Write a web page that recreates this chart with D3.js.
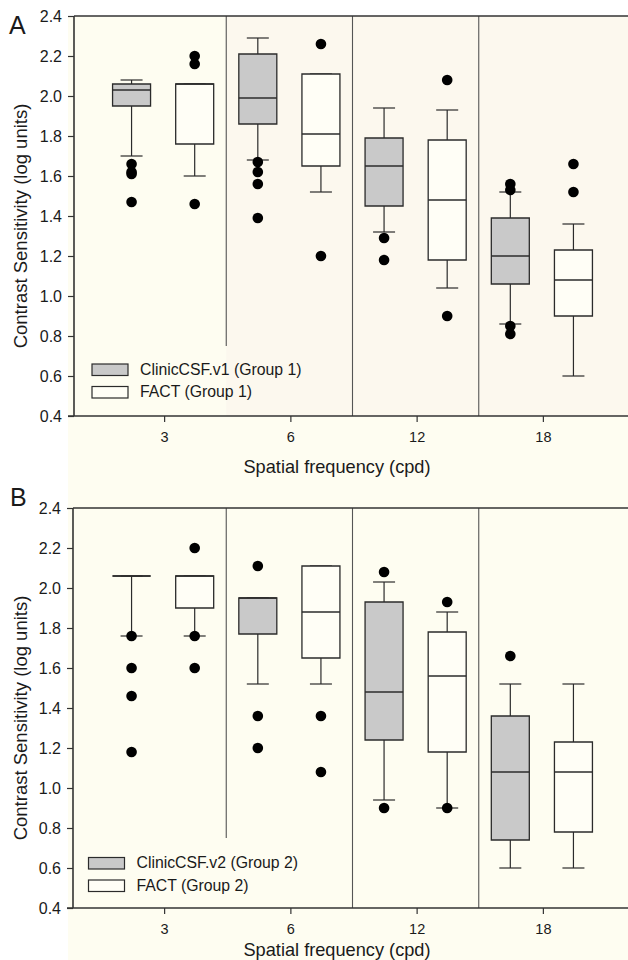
<!DOCTYPE html>
<html><head><meta charset="utf-8">
<script src="https://cdn.jsdelivr.net/npm/d3@7"></script>
<style>
body{margin:0;background:#fff}
svg{display:block}
text{font-family:"Liberation Sans",Arial,Helvetica,sans-serif;fill:#1a1a1a}
</style>
</head><body>
<svg id="c" width="628" height="960"></svg>
<script>
// ---------- DATA ----------
const categories = ["3", "6", "12", "18"];
const yTickValues = [0.4, 0.6, 0.8, 1.0, 1.2, 1.4, 1.6, 1.8, 2.0, 2.2, 2.4];

// Panel A – ClinicCSF.v1 (Group 1)
const aClinicLow     = [1.70, 1.68, 1.32, 0.86];
const aClinicQ1      = [1.95, 1.86, 1.45, 1.06];
const aClinicMedian  = [2.03, 1.99, 1.65, 1.20];
const aClinicQ3      = [2.06, 2.21, 1.79, 1.39];
const aClinicHigh    = [2.08, 2.29, 1.94, 1.52];
const aClinicOut     = [[1.66, 1.62, 1.61, 1.47], [1.67, 1.62, 1.56, 1.39], [1.29, 1.18], [1.56, 1.53, 0.85, 0.81]];
// Panel A – FACT (Group 1)
const aFactLow       = [1.60, 1.52, 1.04, 0.60];
const aFactQ1        = [1.76, 1.65, 1.18, 0.90];
const aFactMedian    = [2.06, 1.81, 1.48, 1.08];
const aFactQ3        = [2.06, 2.11, 1.78, 1.23];
const aFactHigh      = [2.06, 2.11, 1.93, 1.36];
const aFactOut       = [[2.20, 2.16, 1.46], [2.26, 1.20], [2.08, 0.90], [1.66, 1.52]];

// Panel B – ClinicCSF.v2 (Group 2)
const bClinicLow     = [1.76, 1.52, 0.94, 0.60];
const bClinicQ1      = [2.06, 1.77, 1.24, 0.74];
const bClinicMedian  = [2.06, 1.95, 1.48, 1.08];
const bClinicQ3      = [2.06, 1.95, 1.93, 1.36];
const bClinicHigh    = [2.06, 1.95, 2.03, 1.52];
const bClinicOut     = [[1.76, 1.60, 1.46, 1.18], [2.11, 1.36, 1.20], [2.08, 0.90], [1.66]];
// Panel B – FACT (Group 2)
const bFactLow       = [1.76, 1.52, 0.90, 0.60];
const bFactQ1        = [1.90, 1.65, 1.18, 0.78];
const bFactMedian    = [2.06, 1.88, 1.56, 1.08];
const bFactQ3        = [2.06, 2.11, 1.78, 1.23];
const bFactHigh      = [2.06, 2.11, 1.88, 1.52];
const bFactOut       = [[2.20, 1.76, 1.60], [1.36, 1.08], [1.93, 0.90], []];

const legendA = ["ClinicCSF.v1 (Group 1)", "FACT (Group 1)"];
const legendB = ["ClinicCSF.v2 (Group 2)", "FACT (Group 2)"];

// ---------- LAYOUT ----------
const W = 628, H = 960;
const svg = d3.select("#c");
const GREY = "#c9c9c9", WHITE = "#fffef6", INK = "#2b2b2b";

svg.append("rect").attr("x", 68).attr("y", 16).attr("width", W - 68).attr("height", H - 16).attr("fill", "#fefdf1");

const x = d3.scaleBand().domain(categories).range([100, 605]);
const xs = d3.scaleBand().domain([0, 1]).range([0, x.bandwidth()]);
const boxW = 38, capW = 22;

function series(name, fill, lo, q1, med, q3, hi, out) {
  return { name, fill, lo, q1, med, q3, hi, out };
}

const panels = [
  { letter: "A", letterX: 9, letterY: 34, top: 16, bottom: 416, left: 74, tint: true, xTitleY: 473,
    legend: legendA, legendX: 92, legendY: 364,
    series: [series(legendA[0], GREY, aClinicLow, aClinicQ1, aClinicMedian, aClinicQ3, aClinicHigh, aClinicOut),
             series(legendA[1], WHITE, aFactLow, aFactQ1, aFactMedian, aFactQ3, aFactHigh, aFactOut)] },
  { letter: "B", letterX: 10, letterY: 506, top: 508, bottom: 908, left: 73, tint: false, xTitleY: 956,
    legend: legendB, legendX: 88.5, legendY: 857.5,
    series: [series(legendB[0], GREY, bClinicLow, bClinicQ1, bClinicMedian, bClinicQ3, bClinicHigh, bClinicOut),
             series(legendB[1], WHITE, bFactLow, bFactQ1, bFactMedian, bFactQ3, bFactHigh, bFactOut)] }
];

function hline(g, x1, x2, yv, w) {
  g.append("line").attr("x1", x1).attr("x2", x2).attr("y1", yv).attr("y2", yv).attr("stroke", INK).attr("stroke-width", w);
}
function vline(g, xv, y1, y2, w) {
  g.append("line").attr("x1", xv).attr("x2", xv).attr("y1", y1).attr("y2", y2).attr("stroke", INK).attr("stroke-width", w);
}

panels.forEach(p => {
  const g = svg.append("g");
  const y = d3.scaleLinear().domain([0.4, 2.4]).range([p.bottom, p.top]);

  if (p.tint) {
    const x0 = x(categories[1]);
    g.append("rect").attr("x", x0).attr("y", p.top).attr("width", W - x0).attr("height", p.bottom - p.top).attr("fill", "#fcf8ee");
  }

  // dividers between frequencies
  categories.slice(1).forEach((c, i) => {
    g.append("line").attr("x1", x(c)).attr("x2", x(c))
      .attr("y1", p.top).attr("y2", i === 0 ? y(0.75) : p.bottom)
      .attr("stroke", "#555").attr("stroke-width", 1.1);
  });

  // box plots
  p.series.forEach((s, j) => {
    categories.forEach((c, i) => {
      const cx = x(c) + xs(j) + xs.bandwidth() / 2;
      const bg = g.append("g");
      vline(bg, cx, y(s.q3[i]), y(s.hi[i]), 1.2);
      vline(bg, cx, y(s.q1[i]), y(s.lo[i]), 1.2);
      hline(bg, cx - capW / 2, cx + capW / 2, y(s.hi[i]), 1.2);
      hline(bg, cx - capW / 2, cx + capW / 2, y(s.lo[i]), 1.2);
      const yt = y(s.q3[i]), yb = y(s.q1[i]);
      bg.append("path").attr("d", `M${cx - boxW / 2},${yt}H${cx + boxW / 2}V${yb}H${cx - boxW / 2}Z`)
        .attr("fill", s.fill).attr("stroke", INK).attr("stroke-width", 1.3);
      hline(bg, cx - boxW / 2, cx + boxW / 2, y(s.med[i]), 1.3);
      bg.selectAll("circle.o").data(s.out[i]).enter().append("circle")
        .attr("cx", cx).attr("cy", d => y(d)).attr("r", 5.3).attr("fill", "#000");
    });
  });

  // frame
  g.append("line").attr("x1", p.left).attr("x2", W).attr("y1", p.top).attr("y2", p.top).attr("stroke", "#333").attr("stroke-width", 1.3);
  g.append("line").attr("x1", p.left).attr("x2", p.left).attr("y1", p.top).attr("y2", p.bottom).attr("stroke", "#333").attr("stroke-width", 1.6);
  g.append("line").attr("x1", p.left - 6).attr("x2", W).attr("y1", p.bottom).attr("y2", p.bottom).attr("stroke", "#333").attr("stroke-width", 1.6);

  // y axis
  const ya = g.append("g").attr("transform", `translate(${p.left},0)`)
    .call(d3.axisLeft(y).tickValues(yTickValues).tickSize(6).tickPadding(6).tickFormat(d3.format(".1f")));
  ya.select(".domain").remove();
  ya.selectAll(".tick line").attr("stroke", "#333").attr("stroke-width", 1.2);
  ya.selectAll("text").attr("font-size", 16).attr("font-family", null).style("fill", "#1a1a1a");

  // x axis
  const xa = g.append("g").attr("transform", `translate(1.5,${p.bottom})`)
    .call(d3.axisBottom(x).tickSize(6).tickPadding(10));
  xa.select(".domain").remove();
  xa.selectAll(".tick line").attr("stroke", "#333").attr("stroke-width", 1.2);
  xa.selectAll("text").attr("font-size", 14.5).attr("font-family", null).style("fill", "#1a1a1a");

  // legend
  p.legend.forEach((t, k) => {
    const ly = p.legendY + k * 22.5;
    g.append("rect").attr("x", p.legendX).attr("y", ly).attr("width", 36).attr("height", 11.5)
      .attr("fill", k === 0 ? GREY : WHITE).attr("stroke", INK).attr("stroke-width", 1.2);
    g.append("text").attr("x", p.legendX + 48).attr("y", ly + 10.5).attr("font-size", 15.8).text(t);
  });

  // titles
  const midY = (p.top + p.bottom) / 2 + 10;
  g.append("text").attr("transform", `translate(27,${midY}) rotate(-90)`).attr("text-anchor", "middle")
    .attr("font-size", 18.5).text("Contrast Sensitivity (log units)");
  g.append("text").attr("x", 337).attr("y", p.xTitleY).attr("text-anchor", "middle")
    .attr("font-size", 18.2).text("Spatial frequency (cpd)");
  g.append("text").attr("x", p.letterX).attr("y", p.letterY).attr("font-size", 25).text(p.letter);
});
</script>
</body></html>
